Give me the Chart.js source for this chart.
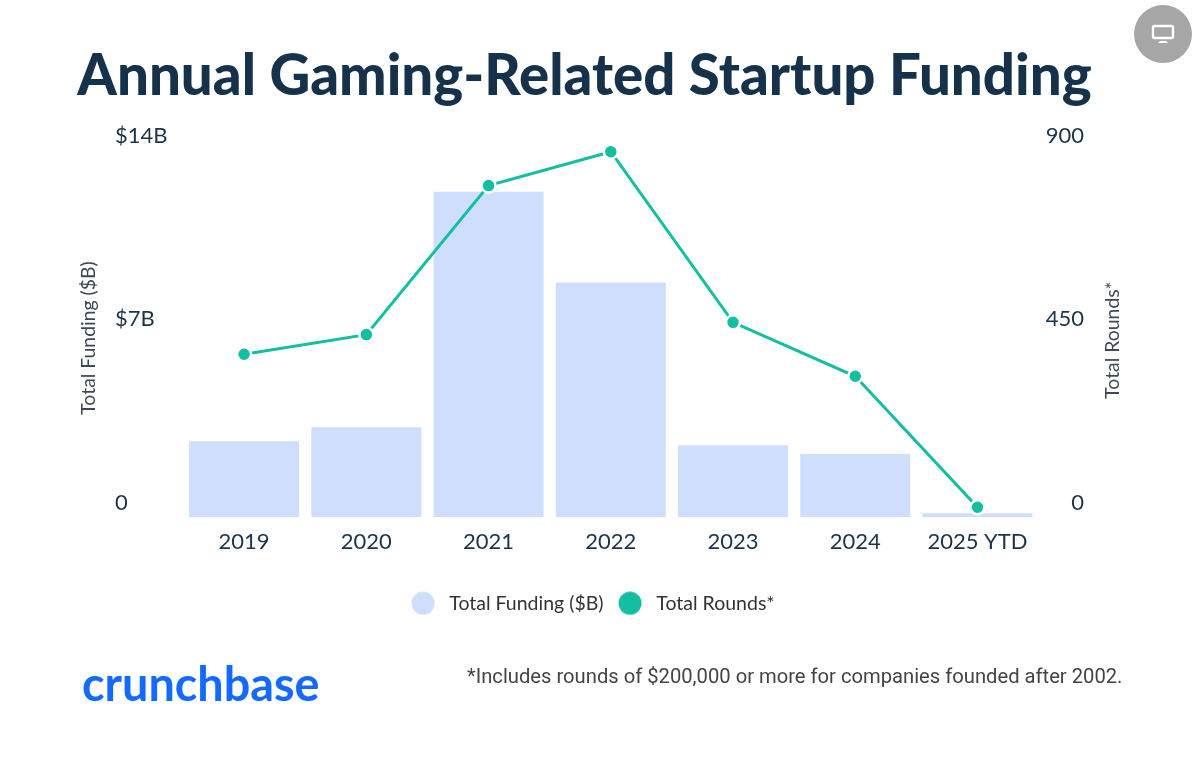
<!DOCTYPE html>
<html><head><meta charset="utf-8">
<script src="https://cdn.jsdelivr.net/npm/chart.js@4"></script>
<style>
html,body{margin:0;padding:0;background:#fff;width:1200px;height:762px;overflow:hidden}
#wrap{position:relative;width:1200px;height:762px}
canvas#c{position:absolute;left:0;top:0}
#logo{position:absolute;left:82px;top:653px;font:700 46.8px/60px Lato,sans-serif;color:#146aff}
#note{position:absolute;left:467px;top:664px;font:400 20.2px/24px Roboto,sans-serif;color:#444;white-space:nowrap}
#badge{position:absolute;left:1134px;top:5px;width:58px;height:58px;border-radius:50%;background:#a6a6a6}
#badge svg{position:absolute;left:17px;top:19px}
</style></head><body>
<div id="wrap">
<canvas id="c" width="1200" height="762"></canvas>
<div id="logo">crunchbase</div>
<div id="note">*Includes rounds of $200,000 or more for companies founded after 2002.</div>
<div id="badge"><svg width="24" height="20" viewBox="0 0 24 20"><rect x="2" y="2" width="20" height="12" rx="1.5" fill="none" stroke="#fff" stroke-width="2.4"/><path d="M9 17h6l2 2H7z" fill="#fff"/></svg></div>
</div>
<script>
const categories = ['2019','2020','2021','2022','2023','2024','2025 YTD'];
const fundingValues = [2.89,3.42,12.4,8.94,2.74,2.40,0.15];
const roundValues = [399,447,812,895,477,345,24];
const leftTickLabels = {0:'0',7:'$7B',14:'$14B'};
const rightTickLabels = {0:'0',450:'450',900:'900'};

const ink='#1b3449', barColor='#cfdefd', lineColor='#12bfa0';
function dot(color){
  const k=document.createElement('canvas');k.width=24;k.height=24;
  const g=k.getContext('2d');g.fillStyle=color;g.beginPath();g.arc(12,12,11.5,0,Math.PI*2);g.fill();
  return k;
}
const axisTitles={id:'axisTitles',
 afterLayout(chart){
  chart.titleBlock.left-=65;chart.titleBlock.right+=35;
  const l=chart.legend;l.left-=9;l.right-=9;l.top+=24;l.bottom+=24;
  if(l.legendHitBoxes)l.legendHitBoxes.forEach(b=>{b.left-=9;b.top+=24;});
 },
 afterDraw(chart){
  const g=chart.ctx;g.save();g.fillStyle='#3a4a58';g.font='400 19.4px Lato, sans-serif';
  g.textAlign='center';g.textBaseline='middle';
  [['Total Funding ($B)',89,338],['Total Rounds*',1113,340]].forEach(([t,x,y])=>{
    g.save();g.translate(x,y);g.rotate(-Math.PI/2);g.fillText(t,0,0);g.restore();
  });
  g.restore();
}};
new Chart(document.getElementById('c'),{
  data:{labels:categories,datasets:[
    {type:'line',label:'Total Rounds*',data:roundValues,yAxisID:'y1',borderColor:lineColor,backgroundColor:lineColor,
     borderWidth:3,tension:0,pointRadius:7,pointBorderColor:'#fff',pointBorderWidth:2.5,pointBackgroundColor:lineColor,order:1,clip:false},
    {type:'bar',label:'Total Funding ($B)',data:fundingValues,yAxisID:'y',backgroundColor:barColor,
     barPercentage:0.9,categoryPercentage:1,order:2}
  ]},
  options:{responsive:false,animation:false,devicePixelRatio:1,
    layout:{padding:{left:115,right:116,top:0,bottom:163}},
    plugins:{
      tooltip:{enabled:false},
      title:{display:true,text:'Annual Gaming-Related Startup Funding',color:'#16324a',
        font:{family:'Lato, sans-serif',size:56.4,weight:'900'},padding:{top:43,bottom:39}},
      legend:{position:'bottom',labels:{usePointStyle:true,pointStyleWidth:33,boxHeight:18,padding:10,color:'#333',
        font:{family:'Lato, sans-serif',size:19.5},
        generateLabels(chart){
          return [1,0].map(i=>{const d=chart.data.datasets[i];return {text:d.label,datasetIndex:i,hidden:false,
            pointStyle:dot(d.backgroundColor),fontColor:'#333',lineWidth:0,strokeStyle:'transparent',fillStyle:d.backgroundColor};});
        }}}
    },
    scales:{
      x:{grid:{display:false},border:{display:false},
        ticks:{color:ink,font:{family:'Lato, sans-serif',size:22},padding:4,maxRotation:0}},
      y:{position:'left',min:0,max:14,
        afterFit(s){s.width=68;},
        grid:{display:false},border:{display:false},
        afterBuildTicks(s){s.ticks=Object.keys(leftTickLabels).map(v=>({value:+v}));},
        ticks:{color:ink,font:{family:'Lato, sans-serif',size:22},crossAlign:'far',labelOffset:-14,
          callback:v=>leftTickLabels[v]}},
      y1:{position:'right',min:0,max:900,
        afterFit(s){s.width=45.4;},
        grid:{display:false},border:{display:false},
        afterBuildTicks(s){s.ticks=Object.keys(rightTickLabels).map(v=>({value:+v}));},
        ticks:{color:ink,font:{family:'Lato, sans-serif',size:22},crossAlign:'far',labelOffset:-14,
          callback:v=>rightTickLabels[v]}}
    }
  },
  plugins:[axisTitles]
});
</script>
</body></html>
